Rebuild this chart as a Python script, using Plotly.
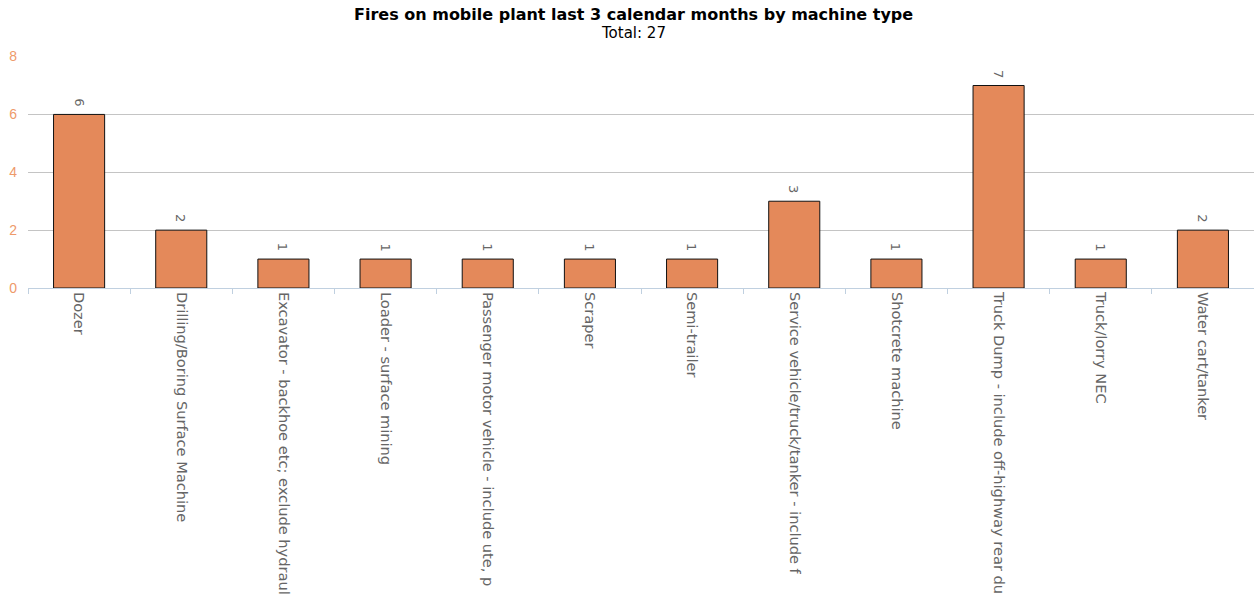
import plotly.graph_objects as go

categories = [
    "Dozer",
    "Drilling/Boring Surface Machine",
    "Excavator - backhoe etc; exclude hydraul",
    "Loader - surface mining",
    "Passenger motor vehicle - include ute, p",
    "Scraper",
    "Semi-trailer",
    "Service vehicle/truck/tanker - include f",
    "Shotcrete machine",
    "Truck Dump - include off-highway rear du",
    "Truck/lorry NEC",
    "Water cart/tanker",
]
values = [6, 2, 1, 1, 1, 1, 1, 3, 1, 7, 1, 2]
y_ticks = [0, 2, 4, 6, 8]

title_text = "Fires on mobile plant last 3 calendar months by machine type"
subtitle_text = "Total: 27"

font_family = "DejaVu Sans"

fig = go.Figure(
    go.Bar(
        x=categories,
        y=values,
        marker=dict(color="#E4895A", line=dict(color="#111111", width=1)),
        cliponaxis=False,
        hoverinfo="x+y",
    )
)

annotations = [
    dict(
        text="<b>" + title_text + "</b>",
        xref="paper", yref="paper", x=0.4935, y=1.0,
        xanchor="center", yanchor="middle",
        yshift=42, showarrow=False,
        font=dict(family=font_family, size=16, color="#000000"),
    ),
    dict(
        text=subtitle_text,
        xref="paper", yref="paper", x=0.4935, y=1.0,
        xanchor="center", yanchor="middle",
        yshift=23, showarrow=False,
        font=dict(family=font_family, size=15, color="#000000"),
    ),
]
for c, v in zip(categories, values):
    annotations.append(
        dict(
            text=str(v), x=c, y=v, xref="x", yref="y",
            xanchor="center", yanchor="bottom", textangle=90,
            yshift=6, showarrow=False,
            font=dict(family=font_family, size=13, color="#666666"),
        )
    )

fig.update_layout(
    width=1254,
    height=598,
    paper_bgcolor="white",
    plot_bgcolor="white",
    margin=dict(l=28, r=0, t=56, b=310),
    bargap=0.5,
    showlegend=False,
    font=dict(family=font_family),
    annotations=annotations,
)

fig.update_xaxes(
    type="category",
    tickangle=90,
    tickfont=dict(family=font_family, size=14.6, color="#666666"),
    showline=True,
    linecolor="#C0D0E0",
    linewidth=1,
    ticks="outside",
    tickson="boundaries",
    ticklen=5,
    tickcolor="#C0D0E0",
    showgrid=False,
    automargin=False,
)

fig.update_yaxes(
    range=[0, 8.02],
    tickvals=y_ticks,
    tickfont=dict(family="Liberation Sans", size=14, color="#EE9A6A"),
    showgrid=True,
    gridcolor="#C4C4C4",
    gridwidth=1,
    zeroline=False,
    ticks="",
    ticklabelstandoff=10,
    automargin=False,
)

fig.write_html(
    "out.html",
    config={"displayModeBar": False},
    post_script="document.body.style.margin='0';document.body.style.overflow='hidden';",
)
